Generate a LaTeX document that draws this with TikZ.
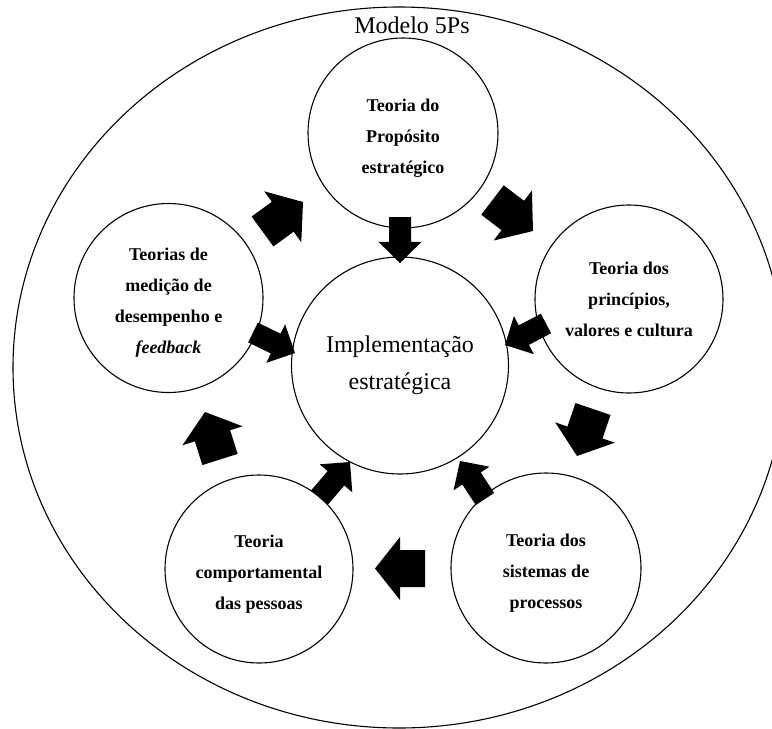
\documentclass[tikz,border=0pt]{standalone}
\usepackage{fontspec}
\setmainfont{Liberation Serif}
\usetikzlibrary{calc}
\newcommand{\blockarr}[4]{%
  \coordinate (#1-s) at ($(#1-b)!#4!(#1-t)$);
  \fill ($(#1-b)!#2!90:(#1-t)$) -- ($(#1-s)!#2!90:(#1-t)$) -- ($(#1-s)!#3!90:(#1-t)$) -- (#1-t)
    -- ($(#1-s)!#3!-90:(#1-t)$) -- ($(#1-s)!#2!-90:(#1-t)$) -- ($(#1-b)!#2!-90:(#1-t)$) -- cycle;
}
\newcommand{\lift}{\rule{0pt}{22pt}}
\tikzset{
  theory/.style={circle, draw, line width=1.1pt, align=center, inner sep=0pt,
    font=\fontsize{18}{31}\selectfont\bfseries},
  core/.style={circle, draw, line width=1.1pt, align=center, inner sep=0pt,
    font=\fontsize{24}{37}\selectfont},
}
\begin{document}
\begin{tikzpicture}[x=1pt,y=-1pt]
\useasboundingbox (0,0) rectangle (772,729);
\fill[white] (0,0) rectangle (772,729);
\draw[line width=1.1pt] (399,367.5) ellipse [x radius=386, y radius=360.5];
\node[font=\fontsize{24}{28}\selectfont, anchor=base] (title) at (412,33) {Modelo 5Ps};

\node[core, minimum size=217pt] (center) at (400,365.5) {Implementação\\estratégica};
\node[theory, minimum size=190pt] (top) at (403,133) {\lift Teoria do\\Propósito\\estratégico};
\node[theory, minimum size=188pt] (right) at (629,299) {Teoria dos\\princípios,\\valores e cultura};
\node[theory, minimum size=189pt] (left) at (168.5,298) {\lift Teorias de\\medição de\\desempenho e\\\textit{feedback}};
\node[theory, minimum size=188pt] (bl) at (259,569) {\lift Teoria\\comportamental\\das pessoas};
\node[theory, minimum size=190pt] (br) at (546,568) {\lift Teoria dos\\sistemas de\\processos};

% cycle arrows
\coordinate (c1-b) at (262.5,231.5); \coordinate (c1-t) at (303,202);
\coordinate (c2-b) at (492.5,200);   \coordinate (c2-t) at (533,231);
\coordinate (c3-b) at (593,409);     \coordinate (c3-t) at (577,456);
\coordinate (c4-b) at (425,568.5);   \coordinate (c4-t) at (375,568.5);
\coordinate (c5-b) at (220,459.5);   \coordinate (c5-t) at (205,412);
\blockarr{c1}{18.5pt}{31.5pt}{0.5}
\blockarr{c2}{18.5pt}{31.5pt}{0.5}
\blockarr{c3}{18.5pt}{31.5pt}{0.5}
\blockarr{c4}{18.5pt}{31.5pt}{0.5}
\blockarr{c5}{18.5pt}{31.5pt}{0.5}

% arrows to the centre
\coordinate (i1-b) at (400,217);     \coordinate (i1-t) at (400,263);
\coordinate (i2-b) at (546,323.5);   \coordinate (i2-t) at (505,345);
\coordinate (i3-b) at (253,332.5);   \coordinate (i3-t) at (295,353);
\coordinate (i4-b) at (319.5,497.5); \coordinate (i4-t) at (350,462);
\coordinate (i5-b) at (485,499);     \coordinate (i5-t) at (460,461);
\blockarr{i1}{11pt}{21.5pt}{0.54}
\blockarr{i2}{11pt}{21.5pt}{0.54}
\blockarr{i3}{11pt}{21.5pt}{0.54}
\blockarr{i4}{11pt}{21.5pt}{0.54}
\blockarr{i5}{11pt}{21.5pt}{0.54}
\end{tikzpicture}
\end{document}
